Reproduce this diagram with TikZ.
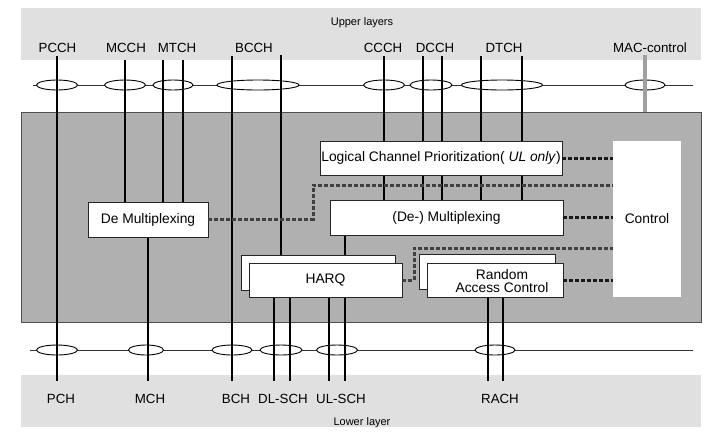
\documentclass[tikz,border=0pt]{standalone}
\usepackage{fontspec}
\setmainfont{Liberation Sans}
\usetikzlibrary{shapes.geometric}
\definecolor{bandgray}{HTML}{E0E0E0}
\definecolor{macgray}{HTML}{B0B0B0}
\definecolor{edgegray}{HTML}{505050}
\definecolor{ctlgray}{HTML}{A0A0A0}
\begin{document}
\begin{tikzpicture}[x=1pt,y=-1pt,
  chan/.style={line width=2.8pt,black},
  hline/.style={line width=0.9pt,black!80},
  ell/.style={ellipse,draw=black,line width=0.9pt,fill=white,minimum height=10pt,inner sep=0pt},
  box/.style={draw=black!85,line width=0.9pt,fill=white,inner sep=0pt,font=\fontsize{13.8}{13}\selectfont},
  lab/.style={anchor=base,inner sep=0pt,font=\fontsize{13.3}{13}\selectfont},
  small/.style={anchor=base,inner sep=0pt,font=\fontsize{11}{11}\selectfont},
  ctl/.style={line width=3pt,dash pattern=on 4pt off 2pt},
  ctlA/.style={ctl,black!90},
  ctlB/.style={ctl,black!75}]
\useasboundingbox (0,0) rectangle (720,440);
% bands and MAC box
\fill[bandgray] (21,8) rectangle (701,60);
\fill[bandgray] (21,375) rectangle (701,427);
\node[draw=edgegray,line width=0.9pt,fill=macgray,minimum width=680pt,minimum height=210pt,inner sep=0pt] (mac) at (361,217) {};
\node[small] (upper) at (362,25) {Upper layers};
\node[small] (lower) at (362,425) {Lower layer};
% horizontal lines
\coordinate (ul) at (33,85); \coordinate (ur) at (693,85);
\coordinate (ll) at (30,350); \coordinate (lr) at (693,350);
\draw[hline] (ul) -- (ur);
\draw[hline] (ll) -- (lr);
% upper ellipses
\node[ell,minimum width=41pt] (pcchE) at (57,85) {};
\node[ell,minimum width=41pt] (mcchE) at (125,85) {};
\node[ell,minimum width=40pt] (mtchE) at (173,85) {};
\node[ell,minimum width=82pt] (bcchE) at (258,85) {};
\node[ell,minimum width=41pt] (ccchE) at (384,85) {};
\node[ell,minimum width=42pt] (dcchE) at (431,85) {};
\node[ell,minimum width=81pt] (dtchE) at (502,85) {};
\node[ell,minimum width=40pt] (macE) at (645,85) {};
% lower ellipses
\node[ell,minimum width=41pt] (pchE) at (57,350) {};
\node[ell,minimum width=35pt] (mchE) at (146,350) {};
\node[ell,minimum width=40pt] (bchE) at (232,350) {};
\node[ell,minimum width=42pt] (dlE) at (281,350) {};
\node[ell,minimum width=41pt] (ulE) at (337,350) {};
\node[ell,minimum width=40pt] (rachE) at (495,350) {};
% boxes (geometry only first, drawn later)
\path
  node[box,minimum width=242pt,minimum height=34pt] (lcp) at (441,158) {}
  node[box,minimum width=233pt,minimum height=35pt] (dmx) at (446.5,217.5) {}
  node[box,minimum width=120pt,minimum height=35pt] (demux) at (148,219.5) {}
  node[box,minimum width=154pt,minimum height=35pt] (harqB) at (318,272.5) {}
  node[box,minimum width=136pt,minimum height=35pt] (racB) at (487,271.5) {};
\coordinate (bot) at (0,381);
% vertical channel lines
\coordinate (pcchT) at (57,56);
\coordinate (mcchT) at (125,60);
\coordinate (mtchT1) at (163,60); \coordinate (mtchT2) at (183,60);
\coordinate (bcchT1) at (232,56); \coordinate (bcchT2) at (281,55);
\coordinate (ccchT) at (384,56);
\coordinate (dcchT1) at (423,56); \coordinate (dcchT2) at (442,56);
\coordinate (dtchT1) at (481,56); \coordinate (dtchT2) at (522,56);
\coordinate (macT) at (645,55);
\draw[chan] (pcchT) -- (pcchT |- bot);
\draw[chan] (mcchT) -- (mcchT |- demux.north);
\draw[chan] (mtchT1) -- (mtchT1 |- demux.north);
\draw[chan] (mtchT2) -- (mtchT2 |- demux.north);
\draw[chan] (bcchT1) -- (bcchT1 |- bot);
\draw[chan] (bcchT2) -- (bcchT2 |- harqB.north);
\draw[chan] (ccchT) -- (ccchT |- dmx.north);
\draw[chan] (dcchT1) -- (dcchT1 |- dmx.north);
\draw[chan] (dcchT2) -- (dcchT2 |- dmx.north);
\draw[chan] (dtchT1) -- (dtchT1 |- dmx.north);
\draw[chan] (dtchT2) -- (dtchT2 |- dmx.north);
\draw[line width=3.8pt,ctlgray] (macT) -- (macT |- mac.north);
\coordinate (mchT) at (148,237);
\draw[chan] (demux.south -| mchT) -- (mchT |- bot);
\coordinate (dmxB) at (345,235);
\draw[chan] (dmxB) -- (dmxB |- harqB.north);
\coordinate (dl1) at (274,297); \coordinate (dl2) at (290,297);
\coordinate (ul1) at (329,297); \coordinate (ul2) at (345,297);
\coordinate (ra1) at (488,297); \coordinate (ra2) at (503,297);
\foreach \c in {dl1,dl2,ul1,ul2,ra1,ra2} \draw[chan] (\c) -- (\c |- bot);
% boxes
\node[box,minimum width=242pt,minimum height=34pt] (lcp) at (441,158) {Logical Channel Prioritization(\textit{ UL only})};
\node[box,minimum width=233pt,minimum height=35pt] (dmx) at (446.5,217.5) {(De-) Multiplexing};
\node[box,minimum width=120pt,minimum height=35pt] (demux) at (148,219.5) {De Multiplexing};
\node[box,minimum width=154pt,minimum height=35pt] (harqB) at (318,272.5) {};
\node[box,minimum width=153pt,minimum height=34pt] (harq) at (325.5,280) {HARQ};
\node[box,minimum width=136pt,minimum height=35pt] (racB) at (487,271.5) {};
\node[box,minimum width=136pt,minimum height=34pt] (rac) at (495,280) {};
\node[inner sep=0pt,align=center,font=\fontsize{13.8}{12.5}\selectfont] (racT) at (502,281) {Random\\Access Control};
\node[fill=white,minimum width=68pt,minimum height=156pt,inner sep=0pt,font=\fontsize{13.8}{13}\selectfont] (ctrl) at (647,219) {Control};
% control (dashed) connections
\draw[ctlA] (lcp.east) -- (lcp.east -| ctrl.west);
\coordinate (k2) at (313,185);
\draw[ctlB] (demux.east) -- (demux.east -| k2) -- (k2) -- (k2 -| ctrl.west);
\draw[ctlA] (dmx.east) -- (dmx.east -| ctrl.west);
\coordinate (k4) at (414,248);
\draw[ctlB] (harq.east) -- (harq.east -| k4) -- (k4) -- (k4 -| ctrl.west);
\draw[ctlA] (rac.east) -- (rac.east -| ctrl.west);
% channel labels
\node[lab] (pcch) at (57.5,52) {PCCH};
\node[lab] (mcch) at (126,52) {MCCH};
\node[lab] (mtch) at (177,52) {MTCH};
\node[lab] (bcch) at (254,52) {BCCH};
\node[lab] (ccch) at (383,52) {CCCH};
\node[lab] (dcch) at (435,52) {DCCH};
\node[lab] (dtch) at (504,52) {DTCH};
\node[lab] (macc) at (650,52) {MAC-control};
\node[lab] (pch) at (61,403) {PCH};
\node[lab] (mch) at (150,403) {MCH};
\node[lab] (bch) at (236,403) {BCH};
\node[lab] (dlsch) at (283,403) {DL-SCH};
\node[lab] (ulsch) at (341,403) {UL-SCH};
\node[lab] (rach) at (500,403) {RACH};
\end{tikzpicture}
\end{document}
